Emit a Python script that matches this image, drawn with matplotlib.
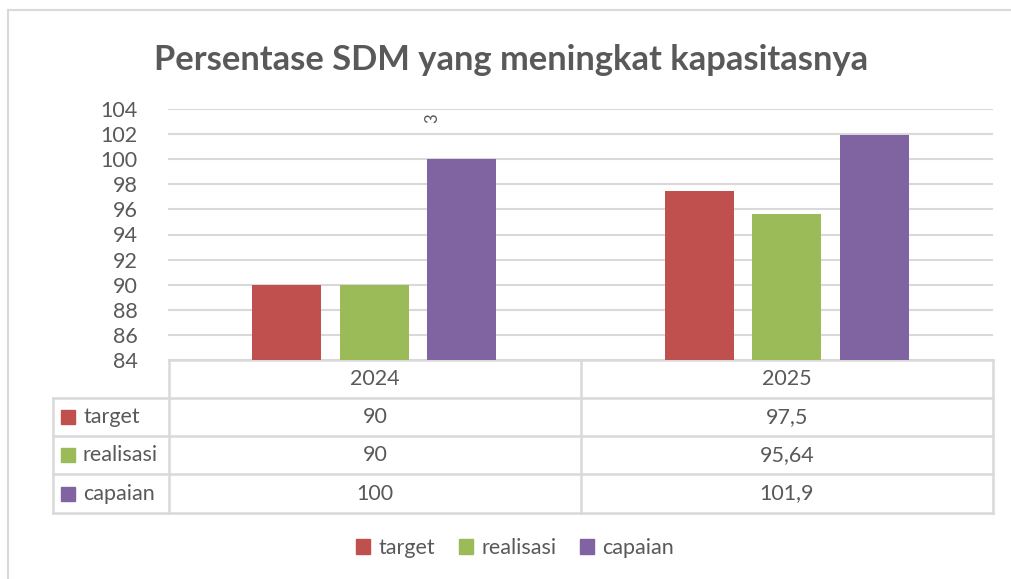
import matplotlib.pyplot as plt
import numpy as np
from matplotlib.patches import Rectangle

plt.rcParams['font.family'] = ['Lato', 'DejaVu Sans']

# data
years = ['2024', '2025']
series = ['target', 'realisasi', 'capaian']
target = [90, 97.5]
realisasi = [90, 95.64]
capaian = [100, 101.9]
colors = ['#C0504D', '#9BBB59', '#8064A2']
yticks = list(range(84, 105, 2))

W, H = 1011, 579
txt = '#595959'
grid = '#D9D9D9'
fs = 15.5

fig = plt.figure(figsize=(W / 100, H / 100), dpi=100)
fig.patch.set_facecolor('white')

# overlay in pixel coords for frame, table and stray label
ov = fig.add_axes([0, 0, 1, 1], zorder=0)
ov.set_xlim(0, W)
ov.set_ylim(H, 0)
ov.axis('off')

# main plot area
x0, x1, ytop, ybot = 168, 993, 109, 360
ax = fig.add_axes([x0 / W, 1 - ybot / H, (x1 - x0) / W, (ybot - ytop) / H], zorder=1)
ax.patch.set_alpha(0)
ax.set_ylim(84, 104)
ax.set_yticks(yticks)
ax.set_xlim(-0.5, len(years) - 0.5)
ax.set_xticks([])
for s in ax.spines.values():
    s.set_visible(False)
ax.tick_params(axis='y', length=0, pad=22, labelsize=fs, labelcolor=txt)
ax.grid(axis='y', color=grid, lw=1.5)
ax.set_axisbelow(True)

x = np.arange(len(years))
bw, step = 0.167, 0.212
for i, (vals, c) in enumerate(zip([target, realisasi, capaian], colors)):
    ax.bar(x + (i - 1) * step, vals, width=bw, color=c, zorder=2)

# title
fig.text(511 / W, 1 - 60 / H, 'Persentase SDM yang meningkat kapasitasnya',
         ha='center', va='center', fontsize=24.8, fontweight='bold', color=txt)

# chart frame
ov.plot([8, 8], [10, H], color=grid, lw=1.5)
ov.plot([8, W], [10, 10], color=grid, lw=1.5)

# data table
tl, tc, tm, tr = 53, 169, 581, 993
rows = [360, 398, 436, 474, 513]
lw = 1.8
ov.plot([tc, tr], [rows[0], rows[0]], color=grid, lw=lw)
for yy in rows[1:]:
    ov.plot([tl, tr], [yy, yy], color=grid, lw=lw)
ov.plot([tl, tl], [rows[1], rows[-1]], color=grid, lw=lw)
for xx in [tc, tm, tr]:
    ov.plot([xx, xx], [rows[0], rows[-1]], color=grid, lw=lw)

col_c = [(tc + tm) / 2, (tm + tr) / 2]
hy = (rows[0] + rows[1]) / 2
for cx, yr in zip(col_c, years):
    ov.text(cx, hy, yr, ha='center', va='center', fontsize=fs, color=txt)


def fmt(v):
    return f'{v:g}'.replace('.', ',')


for r, (name, vals, c) in enumerate(zip(series, [target, realisasi, capaian], colors)):
    cy = (rows[r + 1] + rows[r + 2]) / 2
    ov.add_patch(Rectangle((61, cy - 7), 14, 14, color=c))
    ov.text(83, cy, name, ha='left', va='center', fontsize=fs, color=txt)
    for cx, v in zip(col_c, vals):
        ov.text(cx, cy, fmt(v), ha='center', va='center', fontsize=fs, color=txt)

# stray label
ov.text(432, 118, '3', rotation=90, ha='center', va='center', fontsize=12, color=txt)

# legend
handles = [Rectangle((0, 0), 1, 1, color=c) for c in colors]
fig.legend(handles, series, loc='center', bbox_to_anchor=(515 / W, 1 - 548 / H),
           ncol=3, frameon=False, fontsize=fs, labelcolor=txt,
           handlelength=0.65, handleheight=0.65, handletextpad=0.4, columnspacing=1.1)

fig.savefig('out.png', dpi=100)
